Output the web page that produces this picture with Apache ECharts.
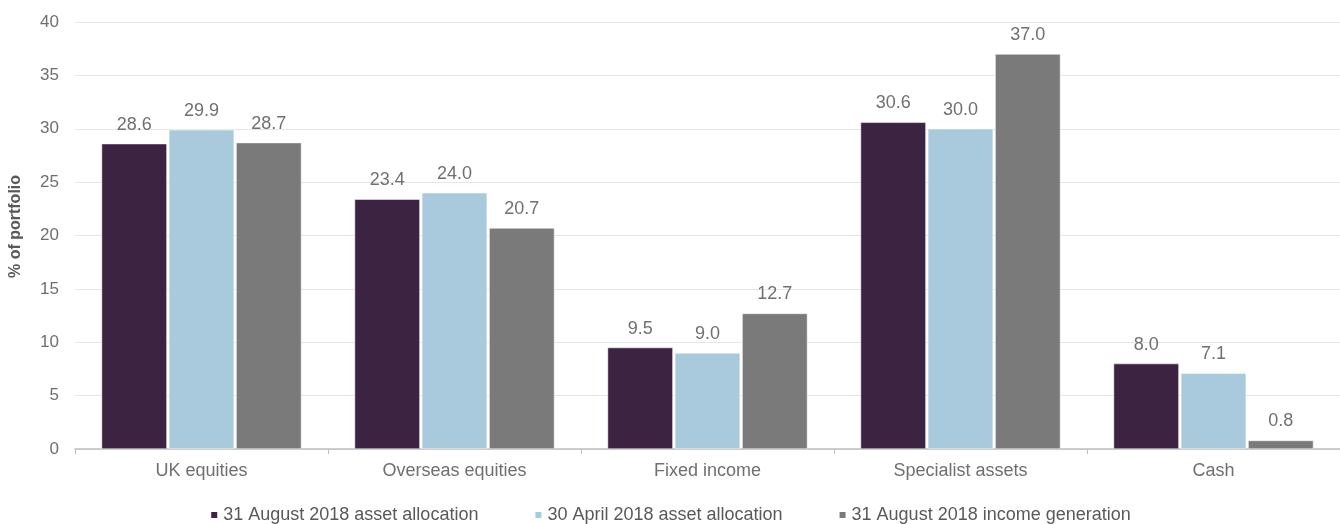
<!DOCTYPE html>
<html><head><meta charset="utf-8">
<script src="https://cdn.jsdelivr.net/npm/echarts@6/dist/echarts.min.js"></script>
<style>html,body{margin:0;padding:0;background:#fff}#c{width:1340px;height:524px}</style>
</head><body><div id="c"></div>
<script>
const categories = ['UK equities','Overseas equities','Fixed income','Specialist assets','Cash'];
const seriesNames = ['31 August 2018 asset allocation','30 April 2018 asset allocation','31 August 2018 income generation'];
const aug2018Alloc = [28.6, 23.4, 9.5, 30.6, 8.0];
const apr2018Alloc = [29.9, 24.0, 9.0, 30.0, 7.1];
const aug2018Income = [28.7, 20.7, 12.7, 37.0, 0.8];
const colors = ['#3B2341','#A9CADC','#7A7A7A'];
const font = 'Arial, "Liberation Sans", sans-serif';
const chart = echarts.init(document.getElementById('c'));
const mk = (name, data, color) => ({
  name, type:'bar', data, barGap:'3%', barCategoryGap:'21%',
  itemStyle:{color, borderColor:'#fff', borderWidth:0.5},
  label:{show:true, position:'top', distance:10, formatter:p=>p.value.toFixed(1), color:'#707070', fontSize:18, fontFamily:font}
});
chart.setOption({
  animation:false,
  grid:{left:75, right:0, top:22, bottom:75},
  legend:{top:501, left:'center', itemWidth:8, itemHeight:8, itemGap:55, icon:'rect',
    textStyle:{color:'#595959', fontSize:18, fontFamily:font}},
  xAxis:{type:'category', data:categories,
    axisLine:{lineStyle:{color:'#BFBFBF', width:1.5}},
    axisTick:{show:true, length:5, lineStyle:{color:'#BFBFBF'}},
    axisLabel:{color:'#6f6f6f', fontSize:18, fontFamily:font, margin:13}},
  yAxis:{type:'value', min:0, max:40, interval:5,
    name:'% of portfolio', nameLocation:'middle', nameGap:51, nameRotate:90,
    nameTextStyle:{color:'#595959', fontSize:16, fontWeight:'bold', fontFamily:font, padding:[0,0,0,18]},
    axisLabel:{color:'#6f6f6f', fontSize:17, fontFamily:font, margin:16},
    splitLine:{lineStyle:{color:'#E6E6E6'}}},
  series:[mk(seriesNames[0], aug2018Alloc, colors[0]), mk(seriesNames[1], apr2018Alloc, colors[1]), mk(seriesNames[2], aug2018Income, colors[2])]
});
</script></body></html>
